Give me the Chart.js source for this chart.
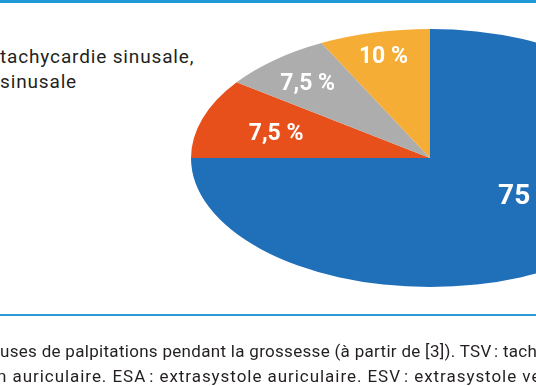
<!DOCTYPE html>
<html><head><meta charset="utf-8">
<script src="https://cdn.jsdelivr.net/npm/chart.js@4.4.1/dist/chart.umd.min.js"></script>
<style>
html,body{margin:0;padding:0;background:#fff;}
body{width:536px;height:386px;overflow:hidden;position:relative;font-family:Roboto,'DejaVu Sans',sans-serif;color:#231f20;}
#wrap{position:absolute;left:0;top:0;width:536px;height:386px;}
.t{position:absolute;white-space:nowrap;line-height:normal;}
.rule{position:absolute;left:0;width:536px;}
</style></head><body>
<div class="rule" style="top:0;height:3px;background:#1e98d7"></div>
<div class="t" style="left:0;top:45px;font-size:19px;letter-spacing:0.85px">tachycardie sinusale,</div>
<div class="t" style="left:0;top:70px;font-size:19px;letter-spacing:0.85px">sinusale</div>
<div id="wrap"><canvas id="c" width="536" height="386"></canvas></div>
<div class="rule" style="top:314px;height:2px;background:#2a9bd9"></div>
<div class="t" style="left:0;top:341px;font-size:17px;letter-spacing:0.3px">uses de palpitations pendant la grossesse (à partir de [3]). TSV&#8239;: tachycardie supraventriculaire.</div>
<div class="t" style="left:-3px;top:366px;font-size:17px;letter-spacing:0.95px">n auriculaire. ESA&#8239;: extrasystole auriculaire. ESV&#8239;: extrasystole ventriculaire.</div>
<script>
// Data (slice sizes from the drawn geometry, printed labels as shown)
const categories = ['Catégorie 1', 'Catégorie 2', 'Catégorie 3', 'Catégorie 4'];
const values = [75, 10, 7.5, 7.5];
const valueLabels = ['75 %', '7,5 %', '7,5 %', '10 %'];
const colors = ['#1f6fb9', '#e8501b', '#adadad', '#f5ad36'];

const ellipsePlugin = {
  id: 'ellipse',
  beforeDatasetsDraw(chart, args, opts) {
    const arc = chart.getDatasetMeta(0).data[0];
    const R = arc.outerRadius;
    const ctx = chart.ctx;
    ctx.save();
    ctx.translate(opts.cx, opts.cy);
    ctx.scale(opts.rx / R, opts.ry / R);
    ctx.translate(-arc.x, -arc.y);
  },
  afterDatasetsDraw(chart) {
    chart.ctx.restore();
  },
  afterDraw(chart, args, opts) {
    const ctx = chart.ctx;
    const meta = chart.getDatasetMeta(0);
    ctx.save();
    ctx.fillStyle = '#ffffff';
    ctx.textAlign = 'center';
    ctx.textBaseline = 'middle';
    meta.data.forEach((arc, i) => {
      const a = (arc.startAngle + arc.endAngle) / 2 + (opts.angleShift[i] || 0) * Math.PI / 180;
      const f = opts.frac[i];
      const x = opts.cx + Math.cos(a) * f * opts.rx;
      const y = opts.cy + Math.sin(a) * f * opts.ry;
      ctx.font = 'bold ' + opts.sizes[i] + 'px Roboto, sans-serif';
      ctx.fillText(valueLabels[i], x, y);
    });
    ctx.restore();
  }
};

new Chart(document.getElementById('c'), {
  type: 'pie',
  data: {
    labels: categories,
    datasets: [{
      data: values,
      backgroundColor: colors,
      borderWidth: 0,
      clip: false
    }]
  },
  options: {
    responsive: false,
    animation: false,
    events: [],
    plugins: {
      legend: { display: false },
      tooltip: { enabled: false },
      ellipse: {
        cx: 430, cy: 158, rx: 239, ry: 129,
        frac: [0.51, 0.67, 0.765, 0.805],
        angleShift: [-8.5, -2, -1.5, -0.5],
        sizes: [28, 23, 23, 23]
      }
    }
  },
  plugins: [ellipsePlugin]
});
</script>
</body></html>
